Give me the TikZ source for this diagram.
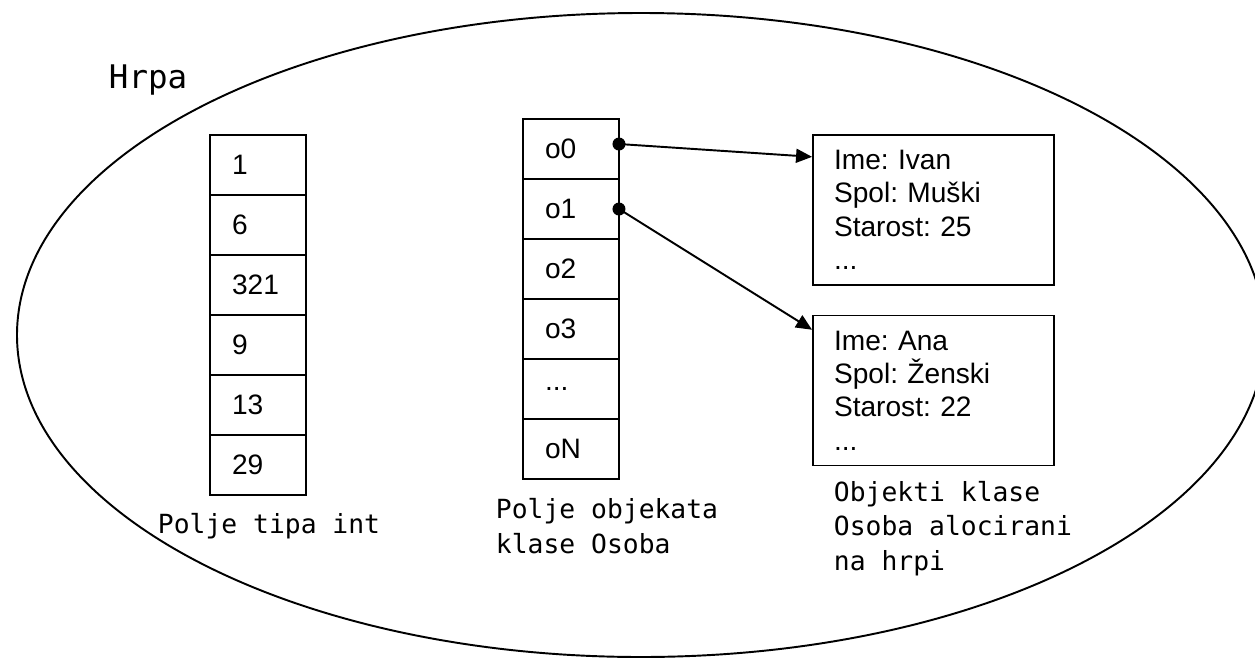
\documentclass[tikz,border=0pt]{standalone}
\usepackage{fontspec}
\setmainfont{Liberation Sans}
\newfontfamily\codefont{DejaVu Sans Mono}
\usetikzlibrary{arrows.meta,calc,positioning}
\newcommand{\etc}{...}
\frenchspacing

\begin{document}
\begin{tikzpicture}[x=0.02cm, y=-0.02cm, line width=1.1pt,
    >={Triangle[length=3.2mm, width=2.8mm]},
    font=\fontsize{16pt}{19pt}\selectfont,
    cell/.style={draw, outer sep=0pt, minimum height=1.2cm, text width=1.04cm, inner xsep=0.44cm, align=left},
    objbox/.style={draw, minimum height=3cm, text width=3.98cm, inner xsep=0.42cm, align=left},
    caption/.style={font=\codefont\fontsize{15pt}{19.5pt}\selectfont, align=left, inner sep=0pt}]
    \useasboundingbox (0,0) rectangle (1255,660);
    % the heap
    \draw (641,335) ellipse [x radius=624, y radius=322];
    \node[font=\codefont\fontsize{18.5pt}{22pt}\selectfont, anchor=base west, inner sep=0pt] (heap) at (108,88) {Hrpa};
    % int array and array of references
    \foreach \v [count=\i] in {1,6,321,9,13,29}
      \node[cell] (n\i) at (258,105+60*\i) {\v};
    \foreach \v [count=\i] in {o0,o1,o2,o3,\etc,oN}
      \node[cell] (o\i) at (571,89+60*\i) {\v};
    % objects
    \node[objbox] (ivan) at (933.5,210) {Ime: Ivan\\Spol: Muški\\Starost: 25\\...};
    \node[objbox] (ana) at (933.5,390.5) {Ime: Ana\\Spol: Ženski\\Starost: 22\\...};
    \fill ([yshift=0.1cm]o1.east) circle[radius=0.13cm]; \draw[->] ([yshift=0.1cm]o1.east) -- ($(ivan.north west)!0.15!(ivan.south west)$);
    \fill (o2.east) circle[radius=0.13cm]; \draw[->] (o2.east) -- ($(ana.north west)!0.1!(ana.south west)$);
    % captions (base = last line)
    \node[caption, anchor=base west] (intcap) at (157,533) {Polje tipa int};
    \node[caption, anchor=base west] (objcap) at (495,553) {Polje objekata\\klase Osoba};
    \node[caption, anchor=base west] (heapcap) at (833,570) {Objekti klase\\Osoba alocirani\\na hrpi};
\end{tikzpicture}
\end{document}
